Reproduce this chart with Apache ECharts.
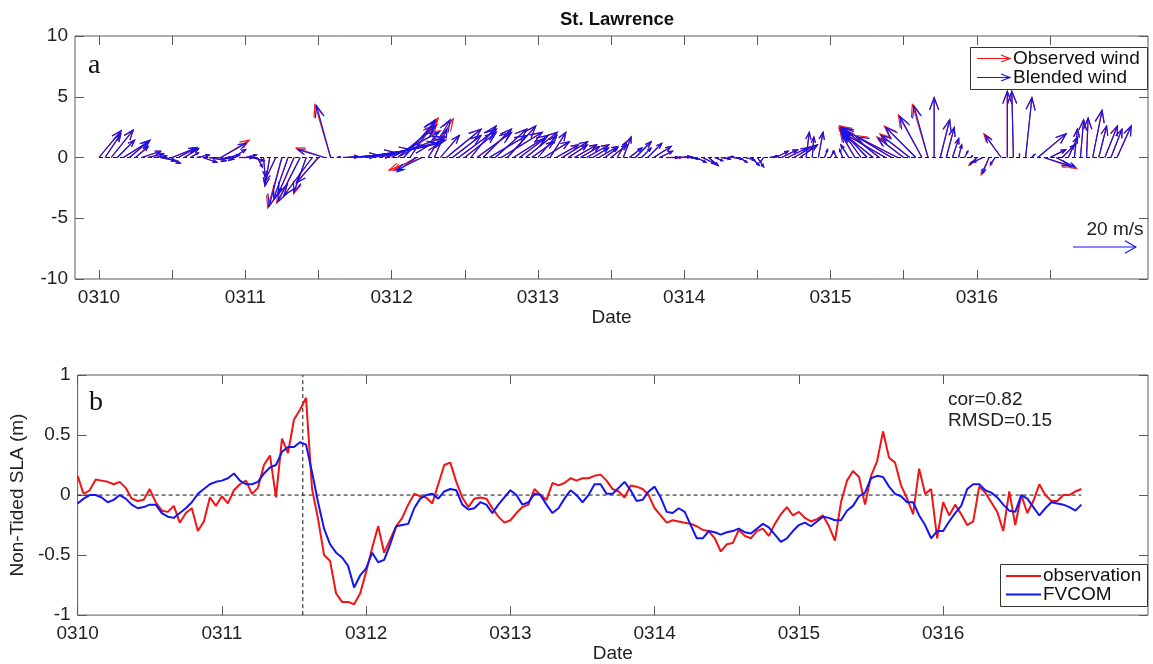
<!DOCTYPE html>
<html>
<head>
<meta charset="utf-8">
<title>St. Lawrence</title>
<script src="https://cdn.jsdelivr.net/npm/echarts@6/dist/echarts.min.js"></script>
<style>
  html, body { margin: 0; padding: 0; background: #fff; }
  #chart { width: 1153px; height: 664px; }
</style>
</head>
<body>
<div id="chart"></div>
<script>
// Day labels (MMDD); x values are days since 0310 00:00, samples are hourly.
const dateLabels = ['0310', '0311', '0312', '0313', '0314', '0315', '0316'];

// Hourly wind components (m/s): u eastward, v northward.
const blendedU = [
  7, 5, 7, 5.5, 8, 6.5, 4, 6, 5, 4, 5, 4.5, 7.5, 6, 4.5, 2.5, 4, 4.5, 5.5, 6, 8, 4, 4, 4.5,
  3.5, 4, 1.5, 0.5, -1.5, -3.5, -4, -4.5, -5, -7, -4, -9, -7, -8.5, -4.5, 1, 5, 9, 13, 16, 19, 21, 21, 19,
  15, 12, 10, 8, -6, -8, 7, 4, 6, 11, 9, 12, 10, 8, 11, 9, 12, 10, 13, 9, 11, 8, 10, 7,
  6, 8, 5, 7, 8, 6, 7, 6, 7, 5, 6, 4, 5, 3, 2.5, 4, 5, 3, 4.5, 5.5, 4, 4, 3, 4,
  3, 2.5, 3, 4, 3, 2.5, 3, 2, 3, 2.5, 3, 2.5, 2, -1, 2.5, 4, 5, 6, 6, 5.5, 1, 0.5, 1.5, 1,
  1, -1, -1, -2.5, -4, -6, -8.5, -10, -12, -14, -16, -13, -8, -9, -9.5, -7, -4.5, 0, 3, 2.5, 2, 1, 1, 0.5,
  -2, -3, -2, -1.5, -5, 0, -0.5, 0, 2, 1, 9, 8, 5, 6, 4, 3, 1, 1, 0.5, 3, 2.5, 4, 3.5, 4.5
];
const blendedV = [
  8.5, 7.5, 8.7, 5.5, 5, 5.5, 3.5, 2, 1.2, 0.5, -1, -1.8, 3, 3.2, 2.8, 1.5, 0.8, -1.5, -1, -0.5, 4.5, 0.8, 2.5, 0,
  0.8, -1, -3, -6, -9, -7.5, -15.5, -13, -11.5, -14, -11, -12, -8, 2.5, 16.5, 0.3, 0.3, 0.8, 1.5, 2.5, 3.5, 4.5, 5.5, 6.5,
  8, 10, 11.5, 12, -4.5, -4, 12, 9, 7, 9, 7, 9, 8, 10, 8, 9, 7, 9, 8, 10, 7, 6, 8, 5,
  7, 5, 8, 4, 5, 4, 4, 3.5, 4, 3, 3.5, 3, 4, 5, 6.5, 3, 5, 3, 4.5, 3.5, 2, 0, 0, 0.3,
  0, -0.5, -1.5, -2, -2.5, -1, -0.5, 0.3, -0.5, -1.5, -0.8, -2.5, -3, -1.5, 0.5, 2, 2.5, 3, 3.5, 4, 8, 6.5, 8, 2.5,
  2, 2, 2.5, 4, 7, 8.5, 9, 8, 9.5, 8, 9.5, 6.5, 6, 7, 9.5, 13, 16.5, 19, 12, 9.5, 6, 4, 2, 0.5,
  -2, -1.5, -5, -2, 7, 21, 21, 1, 19, 1, 7.5, -2.5, 2.5, -3, 4, 6.5, 9, 12, 12.5, 15, 10, 10, 9, 10
];
const observedU = [
  7, 5, 7, 5.5, 8, 6.5, 4, 6, 5, 4, 5, 4.5, 7.5, 6, 4.5, 2.5, 4, 4.5, 5.5, 6, 9, 4, 4, 4.5,
  3.5, 4, 1.5, 0.5, -1.5, -3.5, -4.5, -4.5, -5, -7.5, -4, -9, -7, -9, -5, 1, 5, 9, 13, 16, 19, 21, 21, 19,
  15.5, 12.5, 10.5, 9, -7, -10.5, 8, 4, 6, 11, 9, 12, 10, 8, 11, 9, 12, 10, 13, 9, 11, 8, 10, 7,
  6, 8, 5, 7, 8, 6, 7, 6, 7, 5, 6, 4, 5, 3, 2.5, 4, 5, 3, 4.5, 5.5, 4, 4, 3, 4,
  3, 2.5, 3, 4, 3, 2.5, 3, 2, 3, 2.5, 3, 2.5, 2, -1, 2.5, 4, 5, 6, 6, 5.5, 1, 0.5, 1.5, 1,
  1, -1, -1, -2.5, -4.5, -6.5, -9, -10.5, -12.5, -14.5, -16.5, -13.5, -8.5, -9.5, -10, -7.5, -5, 0, 3, 2.5, 2, 1, 1, 0.5,
  -2.5, -3.5, -2.5, -1.5, -5.5, 0, -0.5, 0, 2, 1, 9, 8.5, 5, 6.5, 4, 3, 1, 1, 0.5, 3, 2.5, 4, 3.5, 4.5
];
const observedV = [
  8.5, 7.5, 8.7, 5.5, 5, 5.5, 3.5, 2, 1.2, 0.5, -1, -1.8, 3, 3.2, 2.8, 1.5, 0.8, -1.5, -1, -0.5, 5.5, 0.8, 2.5, 0,
  0.8, -1, -3, -6, -9, -7.5, -16, -13, -11.5, -14.5, -11.5, -12, -8, 3, 16.8, 0.3, 0.3, 0.8, 1.5, 2.5, 3.5, 4.5, 5.5, 6.5,
  8.5, 10.5, 12, 12.5, -4, -4, 12.3, 9, 7, 9, 7, 9, 8, 10, 8, 9, 7, 9, 8, 10, 7, 6, 8, 5,
  7, 5, 8, 4, 5, 4, 4, 3.5, 4, 3, 3.5, 3, 4, 5, 6.5, 3, 5, 3, 4.5, 3.5, 2, 0, 0, 0.3,
  0, -0.5, -1.5, -2, -2.5, -1, -0.5, 0.3, -0.5, -1.5, -0.8, -2.5, -3, -1.5, 0.5, 2, 2.5, 3, 3.5, 4, 8, 6.5, 8, 2.5,
  2, 2, 2.5, 4, 7.5, 9, 9.5, 8.5, 10, 8.5, 10, 7, 6.5, 7.5, 10, 13.5, 16.8, 19, 12, 9.5, 6, 4, 2, 0.5,
  -2.5, -1.5, -5.5, -2.5, 7.5, 21, 21, 1, 19, 1, 7.5, -3, 2.5, -3.5, 4, 6.5, 9, 12, 12.5, 15, 10, 10, 9, 10
];

// Hourly non-tided sea level anomaly (m).
const slaObservation = [
  0.16, 0.01, 0.04, 0.13, 0.12, 0.11, 0.09, 0.11, 0.06, -0.03,
  -0.05, -0.04, 0.05, -0.06, -0.13, -0.14, -0.09, -0.23, -0.15, -0.11,
  -0.30, -0.22, -0.02, -0.09, -0.01, -0.07, 0.04, 0.09, 0.12, 0.01,
  0.06, 0.25, 0.33, -0.02, 0.47, 0.35, 0.63, 0.71, 0.81,
  0.05, -0.20, -0.50, -0.55, -0.82, -0.89, -0.89, -0.91, -0.82, -0.64, -0.44, -0.26,
  -0.48, -0.37, -0.26, -0.19, -0.08, 0.01, -0.01, -0.02, -0.07, 0.09,
  0.25, 0.27, 0.11, -0.02, -0.10, -0.03, -0.02, -0.03, -0.11, -0.18,
  -0.23, -0.21, -0.15, -0.10, -0.08, 0.05, 0.00, -0.04, 0.10, 0.08,
  0.10, 0.14, 0.12, 0.14, 0.14, 0.16, 0.17, 0.12, 0.05, 0.03,
  -0.02, 0.08, 0.07, 0.05, 0.00, -0.11, -0.17, -0.23, -0.21, -0.22,
  -0.23, -0.24, -0.26, -0.29, -0.30, -0.36, -0.47, -0.41, -0.40, -0.29,
  -0.34, -0.36, -0.30, -0.28, -0.34, -0.24, -0.16, -0.10, -0.17, -0.14,
  -0.19, -0.22, -0.20, -0.17, -0.26, -0.38, -0.06, 0.12, 0.20, 0.15,
  -0.08, 0.16, 0.28, 0.53, 0.31, 0.27, 0.08, -0.03, -0.16, 0.22,
  0.01, 0.05, -0.36, -0.06, -0.17, -0.08, -0.16, -0.25, -0.22, 0.07,
  0.02, -0.06, -0.14, -0.30, 0.03, -0.25, 0.00, -0.15, -0.05, 0.09,
  0.00, -0.05, -0.05, 0.00, 0.00, 0.03, 0.05
];
const slaFvcom = [
  -0.07, -0.03, 0.00, 0.00, -0.02, -0.06, -0.04, 0.00, -0.03, -0.08,
  -0.11, -0.10, -0.08, -0.08, -0.15, -0.18, -0.19, -0.15, -0.11, -0.06,
  0.01, 0.05, 0.09, 0.11, 0.12, 0.14, 0.18, 0.12, 0.09, 0.09,
  0.11, 0.18, 0.23, 0.25, 0.36, 0.40, 0.40, 0.44, 0.42, 0.19,
  -0.06, -0.28, -0.41, -0.48, -0.52, -0.59, -0.77, -0.67, -0.61, -0.48,
  -0.56,
  -0.54, -0.41, -0.26, -0.25, -0.24, -0.11, -0.03, 0.00, 0.01, -0.03,
  0.03, 0.05, 0.04, -0.08, -0.12, -0.11, -0.06, -0.08, -0.15, -0.08,
  -0.02, 0.04, 0.00, -0.08, -0.06, 0.01, 0.00, -0.08, -0.15, -0.11,
  -0.03, 0.04, 0.00, -0.06, 0.00, 0.09, 0.09, 0.01, 0.01, 0.06,
  0.11, 0.04, -0.05, -0.04, 0.03, 0.07, -0.02, -0.14, -0.15, -0.11,
  -0.14, -0.25, -0.36, -0.36, -0.30, -0.31, -0.33, -0.31, -0.30, -0.28,
  -0.31, -0.32, -0.28, -0.24, -0.27, -0.33, -0.39, -0.36, -0.30, -0.25,
  -0.23, -0.26, -0.22, -0.18, -0.19, -0.21, -0.21, -0.13, -0.09, -0.01,
  0.02, 0.14, 0.16, 0.15, 0.07, 0.01, -0.01, -0.06, -0.06, -0.17,
  -0.25, -0.36, -0.30, -0.30, -0.22, -0.15, -0.09, 0.05, 0.09, 0.09,
  0.04, 0.02, -0.02, -0.08, -0.13, -0.14, 0.00, -0.03, -0.10, -0.17,
  -0.11, -0.06, -0.07, -0.08, -0.10, -0.13, -0.08
];

const stats = { cor: '0.82', rmsd: '0.15' };
const surgePeakDay = 1.561;   // time of the marked surge peak (days after 0310)
const scaleSpeed = 20;        // reference arrow, m/s

// ---- derived series ----
const hourToDay = h => h / 24;
const lastDay = hourToDay(slaObservation.length - 1);
const windObs = observedU.map((u, i) => [hourToDay(i), 0, u, observedV[i]]);
const windBlend = blendedU.map((u, i) => [hourToDay(i), 0, u, blendedV[i]]);
const obsLine = slaObservation.map((v, i) => [hourToDay(i), v]);
const fvcomLine = slaFvcom.map((v, i) => [hourToDay(i), v]);

const FONT = "'Liberation Sans', Arial, Helvetica, sans-serif";
const RED = '#f01414';
const BLUE = '#1414ee';
const FRAME = '#5a5a5a';
const TEXT = '#222';
const DAYS_PER_MS = 0.0215;   // quiver length: 1 m/s -> this many days of x-axis (same pixels on y)

// Stick/arrow renderer: base at (t, y0), components (u, v) drawn with equal pixel scale.
function arrowRenderer(color, headFrac, headAngle, headMax) {
  return function (params, api) {
    const t = api.value(0), y0 = api.value(1), u = api.value(2), v = api.value(3);
    const p0 = api.coord([t, y0]);
    const k = DAYS_PER_MS * api.size([1, 0])[0];
    const dx = u * k, dy = -v * k;
    const len = Math.hypot(dx, dy);
    if (len < 0.5) return null;
    const p1 = [p0[0] + dx, p0[1] + dy];
    const ang = Math.atan2(dy, dx);
    const h = Math.min(headFrac * len, headMax), a = headAngle;
    const hA = [p1[0] - h * Math.cos(ang - a), p1[1] - h * Math.sin(ang - a)];
    const hB = [p1[0] - h * Math.cos(ang + a), p1[1] - h * Math.sin(ang + a)];
    const style = { stroke: color, lineWidth: 1.15, fill: null };
    return {
      type: 'group',
      children: [
        { type: 'polyline', shape: { points: [p0, p1] }, style: style },
        { type: 'polyline', shape: { points: [hA, p1, hB] }, style: style }
      ]
    };
  };
}

const dayTicks = dateLabels.map((_, i) => i);
const halfDayTicks = [];
for (let i = 0; i < dateLabels.length * 2; i++) halfDayTicks.push(i / 2);

const tickStyle = { show: true, inside: true, length: 9, lineStyle: { color: FRAME, width: 1 } };
const labelStyle = { color: TEXT, fontFamily: FONT, fontSize: 19 };
const nameStyle = { color: TEXT, fontFamily: FONT, fontSize: 19 };

function xAxisDef(gridIndex, position, min, max, ticks, withLabels, name, nameGap) {
  return {
    type: 'value', gridIndex: gridIndex, position: position, min: min, max: max,
    axisLine: { show: false, onZero: false },
    splitLine: { show: false },
    axisTick: Object.assign({ customValues: ticks }, tickStyle),
    axisLabel: withLabels ? Object.assign({
      customValues: dayTicks, margin: 9,
      formatter: v => dateLabels[Math.round(v)]
    }, labelStyle) : { show: false },
    name: name || '', nameLocation: 'middle', nameGap: nameGap || 0, nameTextStyle: nameStyle
  };
}
function yAxisDef(gridIndex, position, min, max, interval, withLabels, name, nameGap) {
  return {
    type: 'value', gridIndex: gridIndex, position: position, min: min, max: max, interval: interval,
    axisLine: { show: false, onZero: false },
    splitLine: { show: false },
    axisTick: tickStyle,
    axisLabel: withLabels ? Object.assign({ margin: 7 }, labelStyle) : { show: false },
    name: name || '', nameLocation: 'middle', nameGap: nameGap || 0, nameRotate: 90, nameTextStyle: nameStyle
  };
}

const chart = echarts.init(document.getElementById('chart'), null, { renderer: 'canvas' });

const dashed = { type: [4, 3], color: '#111', width: 1 };

chart.setOption({
  animation: false,
  backgroundColor: '#fff',
  grid: [
    { left: 75, top: 36, width: 1073, height: 243, show: true, borderColor: FRAME, borderWidth: 1, backgroundColor: 'transparent' },
    { left: 75, top: 375, width: 1073, height: 243, show: true, borderColor: FRAME, borderWidth: 1, backgroundColor: 'transparent' }
  ],
  xAxis: [
    xAxisDef(0, 'bottom', -0.164, 7.17, halfDayTicks, true, 'Date', 29),
    xAxisDef(0, 'top', -0.164, 7.17, halfDayTicks, false),
    xAxisDef(1, 'bottom', 0, 7.42, dayTicks, true, 'Date', 27),
    xAxisDef(1, 'top', 0, 7.42, dayTicks, false)
  ],
  yAxis: [
    yAxisDef(0, 'left', -10, 10, 5, true),
    yAxisDef(0, 'right', -10, 10, 5, false),
    yAxisDef(1, 'left', -1, 1, 0.5, true, 'Non-Tided SLA (m)', 40),
    yAxisDef(1, 'right', -1, 1, 0.5, false)
  ],
  series: [
    // (a) wind sticks
    {
      type: 'line', xAxisIndex: 0, yAxisIndex: 0, silent: true, symbol: 'none',
      data: [[0, 0], [lastDay, 0]], lineStyle: dashed, z: 1
    },
    {
      name: 'Observed wind', type: 'custom', xAxisIndex: 0, yAxisIndex: 0,
      renderItem: arrowRenderer(RED, 0.3, 0.36, 13), data: windObs, clip: false, z: 2
    },
    {
      name: 'Blended wind', type: 'custom', xAxisIndex: 0, yAxisIndex: 0,
      renderItem: arrowRenderer(BLUE, 0.3, 0.36, 13), data: windBlend, clip: false, z: 3
    },
    {
      name: 'scale', type: 'custom', xAxisIndex: 0, yAxisIndex: 0,
      renderItem: arrowRenderer(BLUE, 0.2, 0.52, 13), data: [[6.657, -7.37, scaleSpeed, 0]], clip: false, z: 3
    },
    // (b) non-tided sea level anomaly
    {
      type: 'line', xAxisIndex: 2, yAxisIndex: 2, silent: true, symbol: 'none',
      data: [[0, 0], [lastDay, 0]], lineStyle: dashed, z: 1
    },
    {
      type: 'line', xAxisIndex: 2, yAxisIndex: 2, silent: true, symbol: 'none',
      data: [[surgePeakDay, -1], [surgePeakDay, 1]], lineStyle: dashed, z: 1
    },
    {
      name: 'observation', type: 'line', xAxisIndex: 2, yAxisIndex: 2, symbol: 'none',
      data: obsLine, lineStyle: { color: RED, width: 2 }, z: 2
    },
    {
      name: 'FVCOM', type: 'line', xAxisIndex: 2, yAxisIndex: 2, symbol: 'none',
      data: fvcomLine, lineStyle: { color: BLUE, width: 2 }, z: 3
    }
  ],
  graphic: [
    { type: 'text', x: 617, y: 20, z: 10,
      style: { text: 'St. Lawrence', fontFamily: FONT, fontSize: 18.5, fontWeight: 'bold', fill: '#111', align: 'center', verticalAlign: 'middle' } },
    { type: 'text', x: 88, y: 66, z: 10,
      style: { text: 'a', fontFamily: "'Liberation Serif', 'Times New Roman', serif", fontSize: 28, fill: '#111', verticalAlign: 'middle' } },
    { type: 'text', x: 89, y: 403, z: 10,
      style: { text: 'b', fontFamily: "'Liberation Serif', 'Times New Roman', serif", fontSize: 28, fill: '#111', verticalAlign: 'middle' } },
    { type: 'text', x: 1115, y: 230, z: 10,
      style: { text: scaleSpeed + ' m/s', fontFamily: FONT, fontSize: 19, fill: TEXT, align: 'center', verticalAlign: 'middle' } },
    { type: 'text', x: 948, y: 400, z: 10,
      style: { text: 'cor=' + stats.cor, fontFamily: FONT, fontSize: 19, fill: TEXT, verticalAlign: 'middle' } },
    { type: 'text', x: 948, y: 421, z: 10,
      style: { text: 'RMSD=' + stats.rmsd, fontFamily: FONT, fontSize: 19, fill: TEXT, verticalAlign: 'middle' } },

    // legend (a)
    { type: 'rect', z: 20, shape: { x: 970.5, y: 47.5, width: 177, height: 42 },
      style: { fill: '#fff', stroke: '#333', lineWidth: 1 } },
    { type: 'polyline', z: 21, shape: { points: [[977, 58.5], [1010, 58.5]] }, style: { stroke: RED, lineWidth: 1.15, fill: null } },
    { type: 'polyline', z: 21, shape: { points: [[1001, 55], [1010, 58.5], [1001, 62]] }, style: { stroke: RED, lineWidth: 1.15, fill: null } },
    { type: 'text', x: 1013, y: 58.5, z: 21,
      style: { text: 'Observed wind', fontFamily: FONT, fontSize: 19, fill: '#111', verticalAlign: 'middle' } },
    { type: 'polyline', z: 21, shape: { points: [[977, 77.5], [1010, 77.5]] }, style: { stroke: BLUE, lineWidth: 1.15, fill: null } },
    { type: 'polyline', z: 21, shape: { points: [[1001, 74], [1010, 77.5], [1001, 81]] }, style: { stroke: BLUE, lineWidth: 1.15, fill: null } },
    { type: 'text', x: 1013, y: 77.5, z: 21,
      style: { text: 'Blended wind', fontFamily: FONT, fontSize: 19, fill: '#111', verticalAlign: 'middle' } },

    // legend (b)
    { type: 'rect', z: 20, shape: { x: 1000.5, y: 564.5, width: 147, height: 42 },
      style: { fill: '#fff', stroke: '#333', lineWidth: 1 } },
    { type: 'polyline', z: 21, shape: { points: [[1006, 576], [1041, 576]] }, style: { stroke: RED, lineWidth: 2, fill: null } },
    { type: 'text', x: 1043, y: 576, z: 21,
      style: { text: 'observation', fontFamily: FONT, fontSize: 19, fill: '#111', verticalAlign: 'middle' } },
    { type: 'polyline', z: 21, shape: { points: [[1006, 594.5], [1041, 594.5]] }, style: { stroke: BLUE, lineWidth: 2, fill: null } },
    { type: 'text', x: 1043, y: 594.5, z: 21,
      style: { text: 'FVCOM', fontFamily: FONT, fontSize: 19, fill: '#111', verticalAlign: 'middle' } }
  ]
});
</script>
</body>
</html>
